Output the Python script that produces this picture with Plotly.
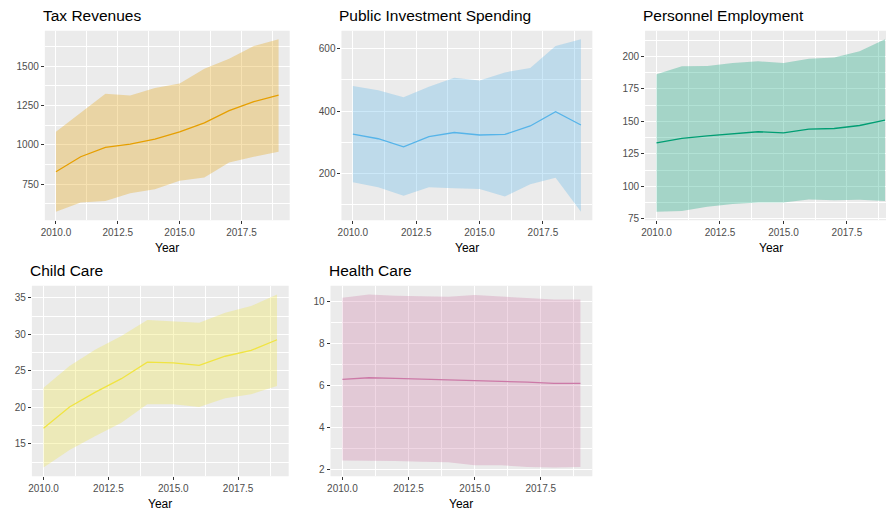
import plotly.graph_objects as go

years = [2010, 2011, 2012, 2013, 2014, 2015, 2016, 2017, 2018, 2019]

tax_mean = [828, 924, 983, 1004, 1036, 1083, 1140, 1218, 1275, 1316]
tax_upper = [1083, 1203, 1326, 1314, 1362, 1390, 1485, 1549, 1629, 1672]
tax_lower = [574, 633, 642, 691, 716, 771, 792, 888, 924, 955]

pub_mean = [326, 311, 285, 318, 331, 323, 325, 352, 398, 355]
pub_upper = [480, 467, 444, 478, 507, 498, 524, 538, 609, 630]
pub_lower = [171, 155, 128, 155, 152, 150, 126, 165, 186, 77]

per_mean = [133.5, 136.9, 138.9, 140.7, 142.0, 141.2, 144.0, 144.5, 146.8, 150.9]
per_upper = [186.2, 192.3, 192.6, 194.9, 196.2, 194.9, 198.2, 199.0, 203.8, 213.0]
per_lower = [80.6, 81.1, 84.4, 86.5, 87.7, 87.7, 90.0, 89.3, 89.8, 88.8]

child_mean = [17.14, 20.06, 22.1, 23.93, 26.2, 26.1, 25.75, 27.0, 27.8, 29.26]
child_upper = [22.7, 25.66, 27.94, 29.76, 31.95, 31.8, 31.58, 32.95, 33.86, 35.46]
child_lower = [11.77, 14.18, 16.09, 17.92, 20.42, 20.42, 20.06, 21.24, 21.8, 22.93]

health_mean = [6.30, 6.38, 6.35, 6.32, 6.29, 6.25, 6.22, 6.17, 6.11, 6.11]
health_upper = [10.19, 10.35, 10.29, 10.27, 10.24, 10.32, 10.25, 10.19, 10.11, 10.11]
health_lower = [2.44, 2.44, 2.41, 2.38, 2.35, 2.21, 2.21, 2.13, 2.10, 2.13]

titles = ["Tax Revenues", "Public Investment Spending", "Personnel Employment", "Child Care", "Health Care"]
colors = ["#E69F00", "#56B4E9", "#009E73", "#F0E442", "#CC79A7"]
fills = ["rgba(230,159,0,0.3)", "rgba(86,180,233,0.3)", "rgba(0,158,115,0.3)",
         "rgba(240,228,66,0.3)", "rgba(204,121,167,0.3)"]
means = [tax_mean, pub_mean, per_mean, child_mean, health_mean]
uppers = [tax_upper, pub_upper, per_upper, child_upper, health_upper]
lowers = [tax_lower, pub_lower, per_lower, child_lower, health_lower]
y_dticks = [250, 200, 25, 5, 2]

W, H = 886, 512
# panel pixel boxes: left, right, top, bottom
boxes = [(41, 287, 31, 222), (339, 591, 31, 222), (644, 886, 31, 222),
         (28, 286, 288, 480), (328, 591, 288, 480)]
x_ranges = [[2009.55, 2019.45], [2009.55, 2019.45], [2009.55, 2019.04],
            [2009.55, 2019.45], [2009.55, 2019.45]]
FONT = "Liberation Sans, Arial, sans-serif"

fig = go.Figure()
annotations = []
layout = {}
for i in range(5):
    xn = "x" if i == 0 else f"x{i+1}"
    yn = "y" if i == 0 else f"y{i+1}"
    xk = "xaxis" if i == 0 else f"xaxis{i+1}"
    yk = "yaxis" if i == 0 else f"yaxis{i+1}"
    fig.add_trace(go.Scatter(x=years, y=lowers[i], mode="lines", line=dict(width=0, color=colors[i]),
                             xaxis=xn, yaxis=yn, showlegend=False, hoverinfo="skip"))
    fig.add_trace(go.Scatter(x=years, y=uppers[i], mode="lines", line=dict(width=0, color=colors[i]),
                             fill="tonexty", fillcolor=fills[i],
                             xaxis=xn, yaxis=yn, showlegend=False, hoverinfo="skip"))
    fig.add_trace(go.Scatter(x=years, y=means[i], mode="lines", line=dict(width=1.3, color=colors[i]),
                             xaxis=xn, yaxis=yn, showlegend=False))
    l, r, t, b = boxes[i]
    lo = min(lowers[i]); hi = max(uppers[i]); pad = 0.05 * (hi - lo)
    layout[xk] = dict(domain=[l / W, r / W], range=x_ranges[i], anchor=yn,
                      tick0=2010, dtick=2.5, tickformat=".1f",
                      showgrid=True, gridcolor="white", gridwidth=1.1,
                      minor=dict(tick0=2010, dtick=1.25, showgrid=True, gridcolor="white", gridwidth=0.5, ticks=""),
                      ticks="outside", ticklen=3, tickcolor="#333333", tickwidth=1,
                      tickfont=dict(size=10, color="#4D4D4D", family=FONT),
                      zeroline=False, showline=False, fixedrange=True)
    layout[yk] = dict(domain=[1 - b / H, 1 - t / H], range=[lo - pad, hi + pad], anchor=xn,
                      tick0=0, dtick=y_dticks[i],
                      showgrid=True, gridcolor="white", gridwidth=1.1,
                      minor=dict(tick0=y_dticks[i] / 2, dtick=y_dticks[i], showgrid=True, gridcolor="white",
                                 gridwidth=0.5, ticks=""),
                      ticks="outside", ticklen=3, tickcolor="#333333", tickwidth=1,
                      tickfont=dict(size=10, color="#4D4D4D", family=FONT),
                      zeroline=False, showline=False, fixedrange=True)
    annotations.append(dict(text=titles[i], x=(l - 4) / W, y=1 - (t - 5) / H, xref="paper", yref="paper",
                            xanchor="left", yanchor="bottom", showarrow=False,
                            font=dict(size=15.5, color="black", family=FONT)))
    cx = (l + l + 252) / 2 if i == 2 else (l + r) / 2
    annotations.append(dict(text="Year", x=cx / W, y=1 - (b + 19) / H, xref="paper", yref="paper",
                            xanchor="center", yanchor="top", showarrow=False,
                            font=dict(size=12, color="black", family=FONT)))

fig.update_layout(**layout)
fig.update_layout(width=W, height=H, margin=dict(l=0, r=0, t=0, b=0),
                  paper_bgcolor="white", plot_bgcolor="#EBEBEB",
                  annotations=annotations, showlegend=False)
fig.write_html("out.html", config={"displayModeBar": False},
               post_script="document.body.style.margin='0';document.body.style.padding='0';document.body.style.overflow='hidden';")
